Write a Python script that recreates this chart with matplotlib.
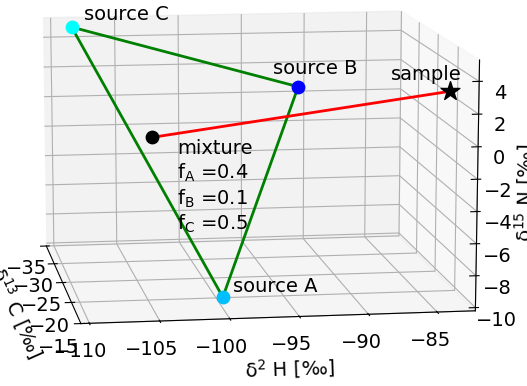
import numpy as np
import matplotlib
matplotlib.use("Agg")
import matplotlib.pyplot as plt
from matplotlib.transforms import offset_copy

plt.rcParams.update({
    "font.family": "DejaVu Sans",
    "font.size": 14,
    "mathtext.fontset": "dejavusans",
})

# isotope signatures of the sources: d2H, d13C, d15N
names = ["source A", "source B", "source C"]
d2H = [-99.7, -93.5, -108.5]
d13C = [-19.0, -22.0, -34.0]
d15N = [-9.9, 2.65, 4.8]
colors = ["deepskyblue", "blue", "cyan"]

fractions = [0.4, 0.1, 0.5]
sample = [-84.0, -16.0, 3.25]

# label offsets in pixels (dx, dy) and alignment
label_off = [(10, 11, "left", "center"), (-25, 9, "left", "bottom"), (12, 3, "left", "bottom")]

mix = [sum(f * v for f, v in zip(fractions, col)) for col in (d2H, d13C, d15N)]

fig = plt.figure(figsize=(5.27, 3.86), dpi=100)
ax = fig.add_axes([-0.10, -0.082, 1.12, 1.308], projection="3d")
# let the 3d box stretch with the axes instead of being forced square
ax.apply_aspect = lambda position=None: None
ax.view_init(elev=11.3, azim=-98.5)


def off(dx, dy):
    return offset_copy(ax.transData, fig=fig, x=dx, y=dy, units="dots")


# x tick labels sit straight under their ticks
_xticks = ax.xaxis.get_major_ticks


def xticks_under(numticks=None):
    ticks = _xticks(numticks)
    for t in ticks:
        t.label1.set_transform(off(-11, 0))
    return ticks


ax.xaxis.get_major_ticks = xticks_under

# mixing triangle
tri = [0, 1, 2, 0]
ax.plot([d2H[i] for i in tri], [d13C[i] for i in tri], [d15N[i] for i in tri],
        color="green", lw=2)
ax.plot([mix[0], sample[0]], [mix[1], sample[1]], [mix[2], sample[2]],
        color="red", lw=2)

for i, name in enumerate(names):
    ax.scatter(d2H[i], d13C[i], d15N[i], color=colors[i], s=80, depthshade=False)
    dx, dy, ha, va = label_off[i]
    ax.text(d2H[i], d13C[i], d15N[i], name, ha=ha, va=va, transform=off(dx, dy))

ax.scatter(*mix, color="black", s=80, depthshade=False)
ax.text(mix[0], mix[1], mix[2],
        "mixture\nf$_\\mathrm{A}$ =%.1f\nf$_\\mathrm{B}$ =%.1f\nf$_\\mathrm{C}$ =%.1f"
        % tuple(fractions),
        ha="left", va="top", transform=off(25, -2))
ax.scatter(*sample, color="black", marker="*", s=200, depthshade=False)
ax.text(sample[0], sample[1], sample[2], "sample", ha="right", va="bottom",
        transform=off(12, 7))

ax.set_xlabel("δ$^{2}$ H [‰]", labelpad=10)
ax.set_ylabel("δ$^{13}$ C [‰]")
ax.set_zlabel("δ$^{15}$ N [‰]", labelpad=-1)
ax.set_xlim(-110.6, -82.2)
ax.set_ylim(-15, -35)
ax.set_zlim(-10.2, 5.3)
ax.set_yticks([-35, -30, -25, -20, -15])
ax.set_zticks(np.arange(-10, 5, 2))
ax.zaxis.set_ticks_position("upper")
ax.zaxis.set_label_position("upper")
ax.tick_params(axis="z", pad=1)

fig.savefig("out.png", dpi=100)
